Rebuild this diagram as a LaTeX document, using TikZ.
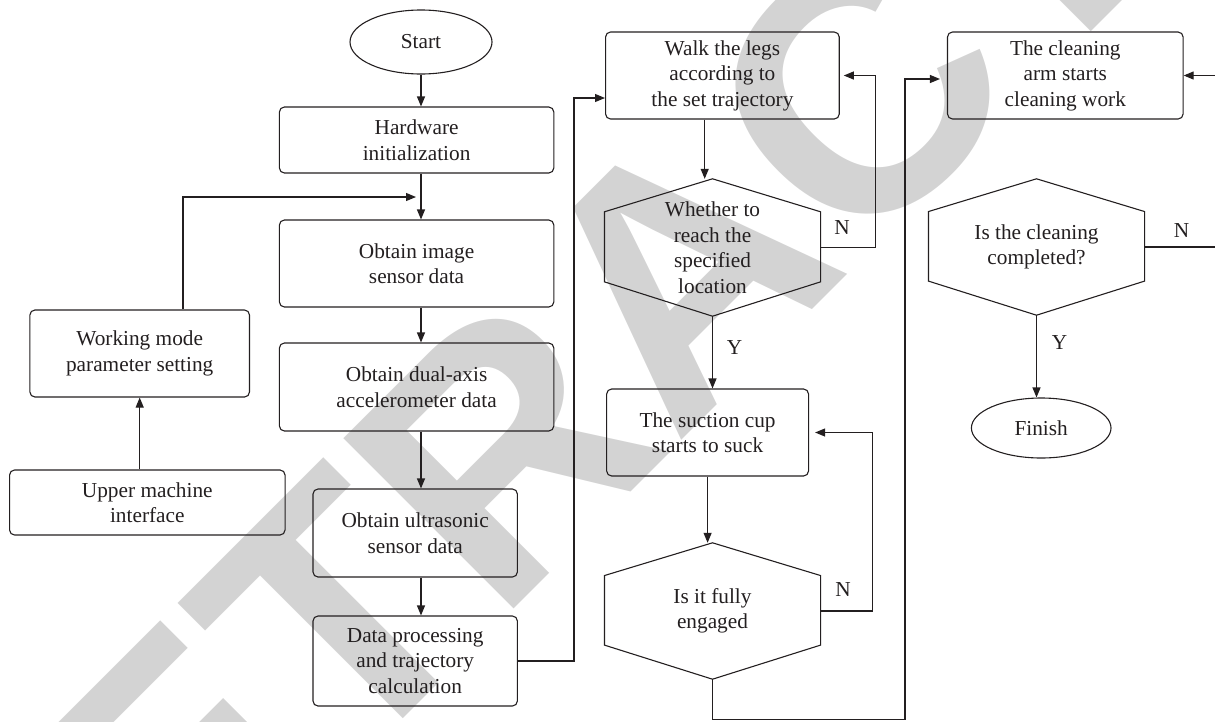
\documentclass[tikz,border=0pt]{standalone}
\usepackage{fontspec}
\setmainfont{Liberation Serif}
\newfontfamily\stampfont{Liberation Sans}
\usetikzlibrary{arrows.meta,shapes.geometric,calc}
\definecolor{ink}{RGB}{35,31,32}
\definecolor{stampgray}{RGB}{211,211,211}

% hexagon drawn on the border box of a named (undrawn) node
\newcommand\drawhex[1]{%
  \draw[line] (#1.north)
    -- ($(#1.north east)!0.24!(#1.south east)$)
    -- ($(#1.north east)!0.75!(#1.south east)$)
    -- (#1.south)
    -- ($(#1.north west)!0.75!(#1.south west)$)
    -- ($(#1.north west)!0.24!(#1.south west)$)
    -- cycle;}

\begin{document}
\begin{tikzpicture}[x=1pt,y=-1pt,
  every node/.style={font=\fontsize{21.3}{25.5}\selectfont, text=ink, align=center, inner sep=0pt},
  line/.style={draw=ink, line width=1.1pt},
  arr/.style={line, -{Triangle[length=10pt,width=8pt]}},
  box/.style={line, rounded corners=5pt},
  oval/.style={line, ellipse},
  hexnode/.style={rectangle},
  lbl/.style={}]

\clip (0,0) rectangle (1215,721);

% stamp across the sheet
\node[rotate=45, text=stampgray, font=\stampfont\bfseries\fontsize{350}{350}\selectfont]
  (stamp) at (680,272) {RETRACTED};

% left column
\node[oval, minimum width=142pt, minimum height=64pt] (start) at (421,42) {Start};
\node[box, minimum width=274.4pt, minimum height=66pt] (hw) at (416.6,140) {Hardware\\initialization};
\node[box, minimum width=274.4pt, minimum height=87pt] (img) at (416.6,263.5) {Obtain image\\sensor data};
\node[box, minimum width=274.4pt, minimum height=88pt] (dual) at (416.6,387) {Obtain dual-axis\\accelerometer data};
\node[box, minimum width=204.4pt, minimum height=88pt] (ultra) at (415.2,533) {Obtain ultrasonic\\sensor data};
\node[box, minimum width=204.4pt, minimum height=90pt] (proc) at (415.2,661) {Data processing\\and trajectory\\calculation};
\node[box, minimum width=219.6pt, minimum height=87pt] (work) at (139.7,353.5) {Working mode\\parameter setting};
\node[box, minimum width=275.5pt, minimum height=65pt] (upper) at (147.3,502.5) {Upper machine\\interface};

% middle column
\node[box, minimum width=233.7pt, minimum height=87pt] (walk) at (722.4,75.5) {Walk the legs\\according to\\the set trajectory};
\node[hexnode, minimum width=215.7pt, minimum height=137pt] (h1) at (712.5,247.5) {Whether to\\reach the\\specified\\location};
\node[box, minimum width=201.9pt, minimum height=87pt] (suc) at (707.6,432.5) {The suction cup\\starts to suck};
\node[hexnode, minimum width=215.7pt, minimum height=136pt] (h3) at (712.5,611) {Is it fully\\engaged};

% right column
\node[box, minimum width=235.6pt, minimum height=87pt] (clean) at (1065.3,75.5) {The cleaning\\arm starts\\cleaning work};
\node[hexnode, minimum width=215.7pt, minimum height=136pt] (h2) at (1036.5,247) {Is the cleaning\\completed?};
\node[oval, minimum width=139.6pt, minimum height=60pt] (fin) at (1041.2,428) {Finish};

\drawhex{h1}
\drawhex{h2}
\drawhex{h3}

% branch labels
\node[lbl] (n1) at (842,228) {N};
\node[lbl] (y1) at (734.5,348) {Y};
\node[lbl] (n3) at (843,590) {N};
\node[lbl] (n2) at (1181.6,231) {N};
\node[lbl] (y2) at (1059.6,343) {Y};

% helper points for bends
\coordinate (fbx) at (183,0);
\coordinate (fb) at (416,197);
\coordinate (j1) at (574,98);
\coordinate (wx) at (704.7,0);
\coordinate (b1) at (905,719.5);
\coordinate (cin) at (905,79);
\coordinate (rx) at (1220,0);

% main sequence
\draw[arr] (start.south) -- (hw.north -| start.south);
\draw[arr] (hw.south -| start.south) -- (img.north -| start.south);
\draw[arr] (img.south -| start.south) -- (dual.north -| start.south);
\draw[arr] (dual.south -| start.south) -- (ultra.north -| start.south);
\draw[arr] (ultra.south -| start.south) -- (proc.north -| start.south);

% parameter input path
\draw[arr] (upper.north -| work.south) -- (work.south);
\draw[arr] (work.north -| fbx) |- (fb);

% to walking and suction
\draw[arr] (proc.east) -| (j1) -- (j1 -| walk.west);
\draw[arr] (walk.south -| wx) -- (h1.north -| wx);
\draw[arr, shorten >=4pt] (h1.east) -- ++(55.3,0) |- (walk.east);
\draw[arr] (h1.south) -- (h1.south |- suc.north);
\draw[arr] (suc.south) -- (suc.south |- h3.north);
\draw[arr, shorten >=6pt] (h3.east) -- ++(51.8,0) |- (suc.east);

% to cleaning
\draw[arr, shorten >=7pt] (h3.south) |- (b1) -- (cin) -- (cin -| clean.west);
\draw[line] (h2.east) -- (h2.east -| rx);
\draw[arr] (clean.east -| rx) -- (clean.east);
\draw[arr] (h2.south) -- (h2.south |- fin.north);

\end{tikzpicture}
\end{document}
